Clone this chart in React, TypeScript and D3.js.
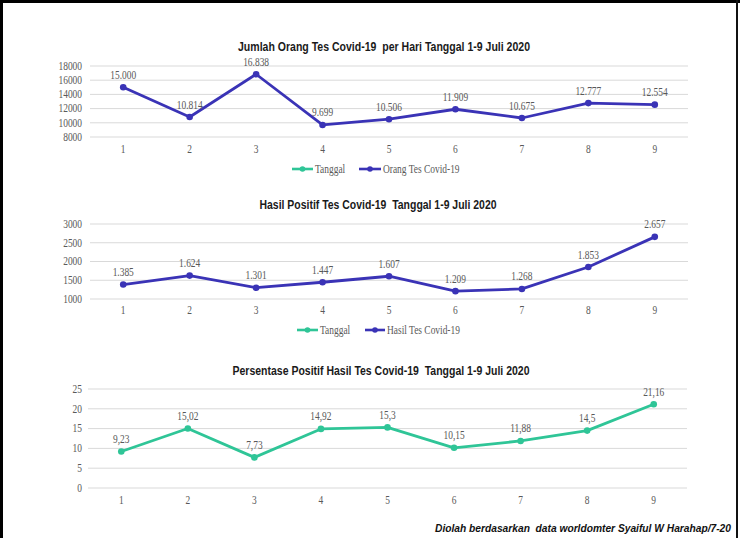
import React from "react";
import * as d3 from "d3";

const days = ["1", "2", "3", "4", "5", "6", "7", "8", "9"];
const testsPerDay = [15000, 10814, 16838, 9699, 10506, 11909, 10675, 12777, 12554];
const positiveCases = [1385, 1624, 1301, 1447, 1607, 1209, 1268, 1853, 2657];
const positivePercent = [9.23, 15.02, 7.73, 14.92, 15.3, 10.15, 11.88, 14.5, 21.16];

const testTicks = [8000, 10000, 12000, 14000, 16000, 18000];
const positiveTicks = [1000, 1500, 2000, 2500, 3000];
const percentTicks = [0, 5, 10, 15, 20, 25];

const title1 = "Jumlah Orang Tes Covid-19  per Hari Tanggal 1-9 Juli 2020";
const title2 = "Hasil Positif Tes Covid-19  Tanggal 1-9 Juli 2020";
const title3 = "Persentase Positif Hasil Tes Covid-19  Tanggal 1-9 Juli 2020";
const legendDate = "Tanggal";
const legend1 = "Orang Tes Covid-19";
const legend2 = "Hasil Tes Covid-19";
const footer = "Diolah berdasarkan  data worldomter Syaiful W Harahap/7-20";

const BLUE = "#3a33b6";
const GREEN = "#2fc597";
const GRID = "#d9d9d9";
const TXT = "#595959";
const SERIF = "'Liberation Serif', 'DejaVu Serif', serif";
const SANS = "'Liberation Sans', Arial, sans-serif";

const idLocale = d3.formatLocale({ decimal: ",", thousands: ".", grouping: [3], currency: ["", ""] });
const fmtInt = idLocale.format(",d");
const fmtDec = idLocale.format("~f");

function SerifText({ x, y, anchor = "middle", size = 11.5, children }: any) {
  return (
    <text
      transform={`translate(${x},${y}) scale(0.82,1)`}
      textAnchor={anchor}
      fontFamily={SERIF}
      fontSize={size}
      fill={TXT}
    >
      {children}
    </text>
  );
}

function Panel({ values, ticks, domain, yTop, yBottom, x0, x1, color, title, titleY, titleW, titleX, xLabelY, fmt, legend }: any) {
  const x = d3.scaleBand().domain(days).range([x0, x1]);
  const y = d3.scaleLinear().domain(domain).range([yBottom, yTop]);
  const cx = (d: string) => (x(d) as number) + x.bandwidth() / 2;
  const line = d3
    .line<number>()
    .x((_, i) => cx(days[i]))
    .y((v) => y(v));
  return (
    <g>
      <text
        x={titleX}
        y={titleY}
        textAnchor="middle"
        fontFamily={SANS}
        fontWeight="bold"
        fontSize={12}
        fill="#1a1a1a"
        textLength={titleW}
        lengthAdjust="spacingAndGlyphs"
        style={{ whiteSpace: "pre" }}
      >
        {title}
      </text>
      {ticks.map((t: number) => (
        <g key={t}>
          <line x1={x0} x2={x1} y1={y(t)} y2={y(t)} stroke={GRID} strokeWidth={1} />
          <SerifText x={82} y={y(t) + 3.8} anchor="end">
            {String(t)}
          </SerifText>
        </g>
      ))}
      {days.map((d) => (
        <SerifText key={d} x={cx(d)} y={xLabelY + 4}>
          {d}
        </SerifText>
      ))}
      <path d={line(values) as string} fill="none" stroke={color} strokeWidth={2.8} strokeLinejoin="round" />
      {values.map((v: number, i: number) => (
        <g key={i}>
          <circle cx={cx(days[i])} cy={y(v)} r={3.3} fill={color} />
          <SerifText x={cx(days[i])} y={y(v) - 8.5}>
            {fmt(v)}
          </SerifText>
        </g>
      ))}
      {legend && (
        <g>
          <line x1={legend.gx0} x2={legend.gx1} y1={legend.y} y2={legend.y} stroke={GREEN} strokeWidth={2.6} />
          <circle cx={(legend.gx0 + legend.gx1) / 2} cy={legend.y} r={2.8} fill={GREEN} />
          <SerifText x={legend.gx1 + 2} y={legend.y + 4} anchor="start">
            {legendDate}
          </SerifText>
          <line x1={legend.bx0} x2={legend.bx1} y1={legend.y} y2={legend.y} stroke={BLUE} strokeWidth={2.6} />
          <circle cx={(legend.bx0 + legend.bx1) / 2} cy={legend.y} r={2.8} fill={BLUE} />
          <SerifText x={legend.bx1 + 2} y={legend.y + 4} anchor="start">
            {legend.label}
          </SerifText>
        </g>
      )}
    </g>
  );
}

export default function App() {
  return (
    <svg
      width={740}
      height={538}
      style={{ position: "absolute", left: 0, top: 0, background: "#fff" }}
    >
      <rect x={0} y={0} width={740} height={538} fill="#fff" />
      <Panel
        values={testsPerDay}
        ticks={testTicks}
        domain={[8000, 18000]}
        yTop={66}
        yBottom={137}
        x0={90}
        x1={688}
        color={BLUE}
        title={title1}
        titleX={384}
        titleY={51}
        titleW={292}
        xLabelY={149}
        fmt={fmtInt}
        legend={{ y: 169, gx0: 292, gx1: 313, bx0: 359, bx1: 381, label: legend1 }}
      />
      <Panel
        values={positiveCases}
        ticks={positiveTicks}
        domain={[1000, 3000]}
        yTop={224}
        yBottom={299}
        x0={90}
        x1={688}
        color={BLUE}
        title={title2}
        titleX={378}
        titleY={209}
        titleW={237}
        xLabelY={310}
        fmt={fmtInt}
        legend={{ y: 330, gx0: 297, gx1: 318, bx0: 365, bx1: 385, label: legend2 }}
      />
      <Panel
        values={positivePercent}
        ticks={percentTicks}
        domain={[0, 25]}
        yTop={389}
        yBottom={488}
        x0={88}
        x1={687}
        color={GREEN}
        title={title3}
        titleX={381}
        titleY={375}
        titleW={297}
        xLabelY={500}
        fmt={fmtDec}
        legend={null}
      />
      <text
        x={731}
        y={532}
        textAnchor="end"
        fontFamily={SANS}
        fontWeight="bold"
        fontStyle="italic"
        fontSize={11}
        fill="#111"
        textLength={296}
        lengthAdjust="spacingAndGlyphs"
        style={{ whiteSpace: "pre" }}
      >
        {footer}
      </text>
      <rect x={0} y={0} width={740} height={3} fill="#000" />
      <rect x={0} y={0} width={3} height={538} fill="#000" />
      <rect x={736} y={0} width={2} height={538} fill="#111" />
    </svg>
  );
}
